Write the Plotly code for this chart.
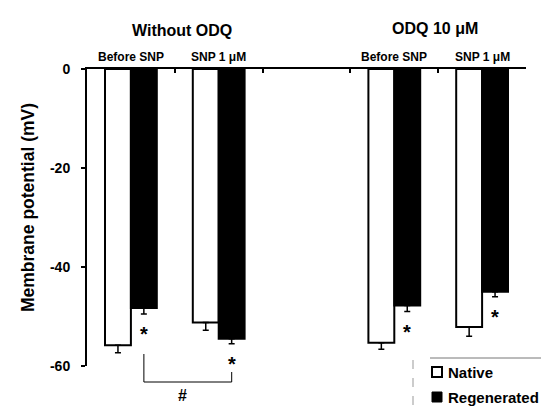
import plotly.graph_objects as go

# ---------------- data ----------------
slots = ["WO_before", "WO_snp", "gap", "ODQ_before", "ODQ_snp"]   # category slots (gap = empty)
bar_slots = ["WO_before", "WO_snp", "ODQ_before", "ODQ_snp"]
sub_labels = ["Before SNP", "SNP 1 μM", "Before SNP", "SNP 1 μM"]
group_titles = ["Without ODQ", "ODQ 10 μM"]
series_names = ["Native", "Regenerated"]
y_title = "Membrane potential (mV)"

native = [-55.8, -51.2, -55.3, -52.1]
native_err = [1.5, 1.6, 1.3, 1.9]
regen = [-48.3, -54.5, -47.8, -45.0]
regen_err = [1.2, 1.0, 1.2, 1.0]
y_ticks = [0, -20, -40, -60]

FONT = "Arial, Liberation Sans, sans-serif"

# ---------------- layout geometry (screen pixels) ----------------
OFF = 8                       # default body margin of the page
W, H = 549 - OFF, 409 - OFF   # figure size
X0, X1, Y0, Y1 = 87, 526, 69, 366   # plot area on screen
ML, MT = X0 - OFF, Y0 - OFF
MR, MB = W - (X1 - OFF), H - (Y1 - OFF)
PW, PH = X1 - X0, Y1 - Y0


def px_x(px):
    return (px - X0) / PW


def px_y(py):
    return (Y1 - py) / PH


fig = go.Figure()

fig.add_trace(go.Bar(
    x=bar_slots, y=native, name=series_names[0],
    marker=dict(color="white", line=dict(color="black", width=2)),
    error_y=dict(type="data", symmetric=False, array=[0] * len(native),
                 arrayminus=native_err, color="black", thickness=1.5, width=3),
    showlegend=False,
))
fig.add_trace(go.Bar(
    x=bar_slots, y=regen, name=series_names[1],
    marker=dict(color="black", line=dict(color="black", width=2)),
    error_y=dict(type="data", symmetric=False, array=[0] * len(regen),
                 arrayminus=regen_err, color="black", thickness=1.5, width=3),
    showlegend=False,
))

bar_half = 0.148  # half bar width in category units (bargap 0.41, 2 bars)

annotations = []
# y axis title
annotations.append(dict(x=px_x(28), y=px_y(208), xref="paper", yref="paper",
                        text=y_title, textangle=-90, showarrow=False,
                        xanchor="center", yanchor="middle",
                        font=dict(family=FONT, size=17.5, color="black", weight=700)))
# group titles
annotations.append(dict(x=0.5, y=px_y(20), xref="x", yref="paper", xshift=7,
                        text=group_titles[0], showarrow=False,
                        font=dict(family=FONT, size=16, color="black", weight=700)))
annotations.append(dict(x=3.5, y=px_y(18), xref="x", yref="paper", xshift=-3,
                        text=group_titles[1], showarrow=False,
                        font=dict(family=FONT, size=16, color="black", weight=700)))
# sub labels
for s, lab in zip(bar_slots, sub_labels):
    annotations.append(dict(x=s, y=px_y(48), xref="x", yref="paper",
                            text=lab, showarrow=False,
                            font=dict(family=FONT, size=12, color="black", weight=700)))
# significance asterisks below regenerated bars
for s, v, e in zip(bar_slots, regen, regen_err):
    annotations.append(dict(x=s, y=v - e, xref="x", yref="y", xshift=13, yshift=-20,
                            text="*", showarrow=False, yanchor="middle",
                            font=dict(family=FONT, size=20, color="black", weight=700)))
# hash under bracket
annotations.append(dict(x=0.5 + bar_half, y=px_y(395), xref="x", yref="paper", xshift=-5,
                        text="#", showarrow=False, yanchor="middle",
                        font=dict(family=FONT, size=16, color="black", weight=700)))
# legend texts
annotations.append(dict(x=px_x(446), y=px_y(372), xref="paper", yref="paper",
                        text=series_names[0], showarrow=False, xanchor="left", yanchor="middle",
                        font=dict(family=FONT, size=15, color="black", weight=700)))
annotations.append(dict(x=px_x(446), y=px_y(397), xref="paper", yref="paper",
                        text=series_names[1], showarrow=False, xanchor="left", yanchor="middle",
                        font=dict(family=FONT, size=15, color="black", weight=700)))

shapes = []
# bracket between regenerated bars of Without ODQ group
shapes.append(dict(type="path", xref="x", yref="paper",
                   path=f"M {bar_half},{px_y(354)} L {bar_half},{px_y(382)} "
                        f"L {1 + bar_half},{px_y(382)} L {1 + bar_half},{px_y(372)}",
                   line=dict(color="black", width=1)))
# legend frame
shapes.append(dict(type="line", xref="paper", yref="paper",
                   x0=px_x(430), x1=px_x(549), y0=px_y(358), y1=px_y(358),
                   line=dict(color="#777", width=1)))
shapes.append(dict(type="line", xref="paper", yref="paper",
                   x0=px_x(413), x1=px_x(413), y0=px_y(360), y1=px_y(409),
                   line=dict(color="#999", width=1, dash="dash")))
# legend swatches
shapes.append(dict(type="rect", xref="paper", yref="paper",
                   x0=px_x(432), x1=px_x(442), y0=px_y(377), y1=px_y(367),
                   fillcolor="white", line=dict(color="black", width=2)))
shapes.append(dict(type="rect", xref="paper", yref="paper",
                   x0=px_x(432), x1=px_x(442), y0=px_y(402), y1=px_y(392),
                   fillcolor="black", line=dict(color="black", width=1)))

fig.update_layout(
    width=W, height=H,
    margin=dict(l=ML, r=MR, t=MT, b=MB, pad=0),
    paper_bgcolor="white", plot_bgcolor="white",
    barmode="group", bargap=0.41, bargroupgap=0,
    font=dict(family=FONT, color="black"),
    annotations=annotations, shapes=shapes,
    xaxis=dict(type="category", categoryorder="array", categoryarray=slots,
               range=[-0.5, len(slots) - 0.5], side="top",
               showline=True, linecolor="black", linewidth=2,
               ticks="inside", ticklen=4, tickwidth=1.5, tickcolor="black",
               tickson="boundaries", showticklabels=False, showgrid=False,
               zeroline=False, fixedrange=True),
    yaxis=dict(range=[-60, 0], tickvals=y_ticks, ticktext=[str(t) for t in y_ticks],
               showline=True, linecolor="black", linewidth=2,
               ticks="outside", ticklen=4, tickwidth=1.5, tickcolor="black",
               ticklabelstandoff=8,
               tickfont=dict(family=FONT, size=14, color="black", weight=700),
               showgrid=False, zeroline=False),
)

fig.write_html("out.html")
